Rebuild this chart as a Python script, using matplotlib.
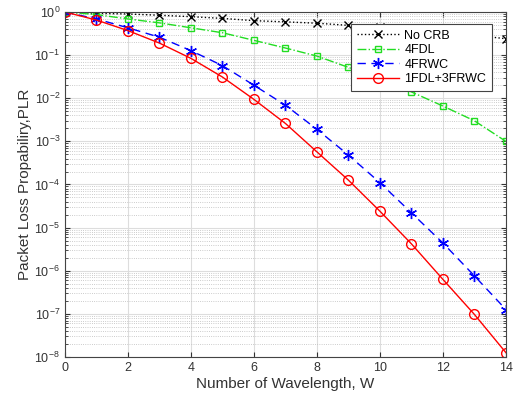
import matplotlib
matplotlib.use("Agg")
import matplotlib.pyplot as plt
import numpy as np

plt.rcParams['font.family'] = ['Liberation Sans', 'DejaVu Sans']
plt.rcParams['mathtext.fontset'] = 'custom'
plt.rcParams['mathtext.rm'] = 'Liberation Sans'
plt.rcParams['mathtext.it'] = 'Liberation Sans:italic'
plt.rcParams['mathtext.bf'] = 'Liberation Sans:bold'

W = list(range(15))
no_crb = [1.0, 0.93, 0.90, 0.84, 0.78, 0.71, 0.63, 0.59, 0.55, 0.49, 0.44, 0.39, 0.34, 0.29, 0.24]
fdl4 = [1.0, 0.87, 0.69, 0.56, 0.43, 0.33, 0.22, 0.146, 0.095, 0.052, 0.028, 0.014, 0.0066, 0.003, 0.001]
frwc4 = [1.0, 0.69, 0.43, 0.26, 0.127, 0.057, 0.020, 0.0069, 0.0019, 4.8e-4, 1.1e-4, 2.2e-5, 4.4e-6, 7.6e-7, 1.26e-7]
mix = [1.0, 0.65, 0.37, 0.19, 0.084, 0.031, 0.0094, 0.0026, 5.7e-4, 1.26e-4, 2.4e-5, 4.2e-6, 6.3e-7, 9.7e-8, 1.26e-8]
labels = ['No CRB', '4FDL', '4FRWC', '1FDL+3FRWC']
xticks = [0, 2, 4, 6, 8, 10, 12, 14]

fig = plt.figure(figsize=(5.13, 4.0), dpi=100)
ax = fig.add_axes([0.1267, 0.1075, 0.8595, 0.8625])

ax.semilogy(W, no_crb, color='black', linestyle=':', marker='x', markersize=6, mew=1.0, lw=1.0, label=labels[0])
ax.semilogy(W, fdl4, color='#22dd22', linestyle='-.', marker='s', markersize=5, mfc='none', mew=1.0, lw=1.0, label=labels[1])
ax.semilogy(W, frwc4, color='blue', linestyle=(0, (6, 4)), marker=(6, 2, 0), markersize=8, mew=1.0, lw=1.0, label=labels[2])
ax.semilogy(W, mix, color='red', linestyle='-', marker='o', markersize=7, mfc='none', mew=1.0, lw=1.0, label=labels[3])

ax.set_xlim(0, 14)
ax.set_ylim(1e-8, 1)
ax.set_xticks(xticks)
ax.set_yticks([10.0**k for k in range(-8, 1)])
ax.grid(True, which='major', color='#dddddd', linestyle='-', lw=0.8)
ax.yaxis.grid(True, which='minor', color='#bbbbbb', linestyle=':', lw=0.6)
ax.set_axisbelow(True)
ax.tick_params(which='both', direction='in', top=True, right=True, labelsize=9, colors='#333333', labelcolor='#333333')
ax.tick_params(which='minor', length=2)
for s in ax.spines.values():
    s.set_color('#444444')
    s.set_linewidth(0.8)
ax.set_xlabel('Number of Wavelength, W', fontsize=11, color='#333333', labelpad=2)
ax.set_ylabel('Packet Loss Propabiliry,PLR', fontsize=11, color='#333333', labelpad=2)

leg = ax.legend(loc='upper right', bbox_to_anchor=(0.968, 0.965), borderaxespad=0, fontsize=9, frameon=True, fancybox=False,
                edgecolor='#444444', framealpha=1, handlelength=3.4, handletextpad=0.4, borderpad=0.45, labelspacing=0.2)
leg.get_frame().set_linewidth(0.8)

fig.savefig('out.png', dpi=100)
